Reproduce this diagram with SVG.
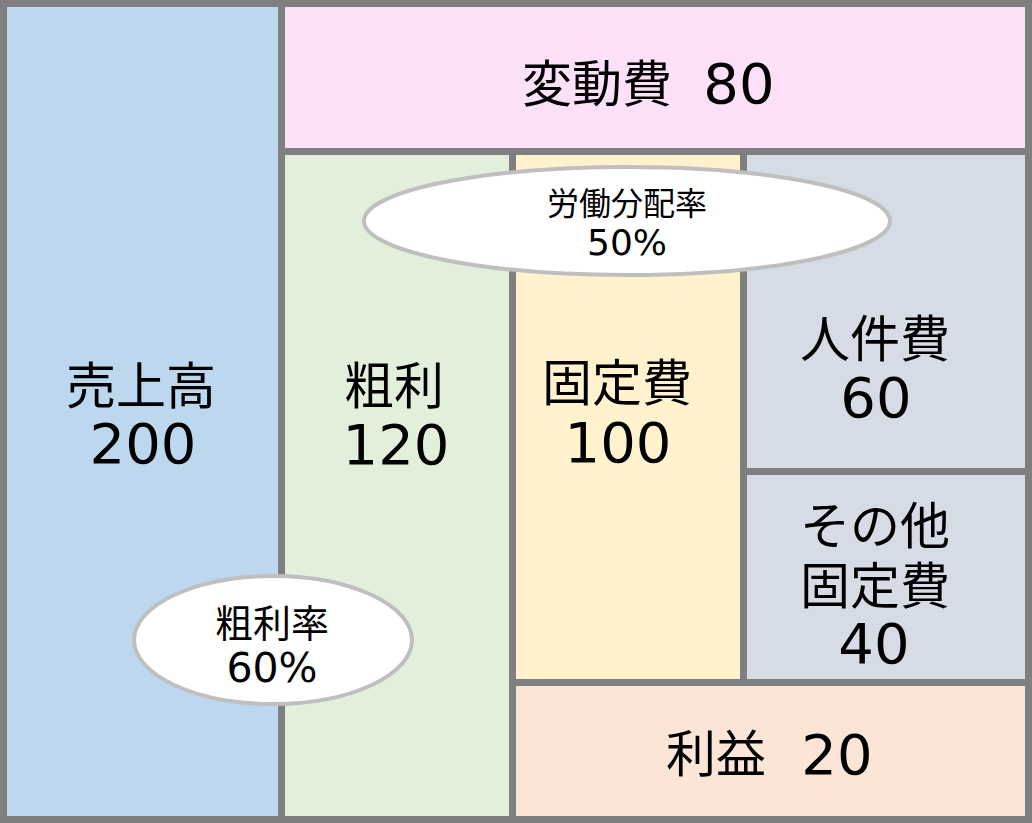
<svg xmlns="http://www.w3.org/2000/svg" width="1032" height="823" viewBox="0 0 1032 823">
<style>
.k{font-family:"Noto Sans CJK JP","Noto Sans CJK SC",sans-serif;font-size:50px;fill:#000;text-anchor:middle}
.d{font-family:"DejaVu Sans","Noto Sans CJK JP",sans-serif;font-size:56px;fill:#000;text-anchor:middle}
.ks{font-family:"Noto Sans CJK JP",sans-serif;fill:#000;text-anchor:middle}
.ds{font-family:"DejaVu Sans",sans-serif;fill:#000;text-anchor:middle}
.ell{fill:#FFFFFF;stroke:#BFBFBF;stroke-width:4}
</style>
<rect x="0" y="0" width="1032" height="823" fill="#7F7F7F"/>
<g id="uriage">
<rect x="7" y="7" width="271" height="809" fill="#BDD7EE"/>
<text class="k" x="141" y="404">売上高</text>
<text class="d" x="143" y="463">200</text>
</g>
<g id="hendouhi">
<rect x="285" y="7" width="740" height="141" fill="#FBE0F8"/>
<text class="k" x="522" y="102" style="text-anchor:start">変動費</text>
<text class="d" x="739" y="103">80</text>
</g>
<g id="arari">
<rect x="285" y="155" width="224" height="661" fill="#E2EFDA"/>
<text class="k" x="394" y="404">粗利</text>
<text class="d" x="396" y="464">120</text>
</g>
<g id="koteihi">
<rect x="516" y="155" width="224" height="524" fill="#FFF2CC"/>
<text class="k" x="617" y="401">固定費</text>
<text class="d" x="618" y="462">100</text>
</g>
<g id="jinkenhi">
<rect x="747" y="155" width="278" height="313" fill="#D6DCE5"/>
<text class="k" x="875" y="357">人件費</text>
<text class="d" x="876" y="417">60</text>
</g>
<g id="sonota">
<rect x="747" y="475" width="278" height="204" fill="#D6DCE5"/>
<text class="k" x="875" y="544">その他</text>
<text class="k" x="875" y="604">固定費</text>
<text class="d" x="874" y="663">40</text>
</g>
<g id="rieki">
<rect x="516" y="686" width="509" height="130" fill="#FBE5D6"/>
<text class="k" x="666" y="772" style="text-anchor:start">利益</text>
<text class="d" x="837" y="774">20</text>
</g>
<g id="roudou-bunpairitsu">
<ellipse class="ell" cx="627" cy="221" rx="263" ry="54"/>
<text class="ks" x="627" y="215" font-size="32">労働分配率</text>
<text class="ds" x="627" y="255" font-size="36">50%</text>
</g>
<g id="arariritsu">
<ellipse class="ell" cx="273" cy="640" rx="139" ry="64"/>
<text class="ks" x="272" y="637" font-size="38">粗利率</text>
<text class="ds" x="272" y="682" font-size="41">60%</text>
</g>
<g id="connectors"></g>
</svg>
